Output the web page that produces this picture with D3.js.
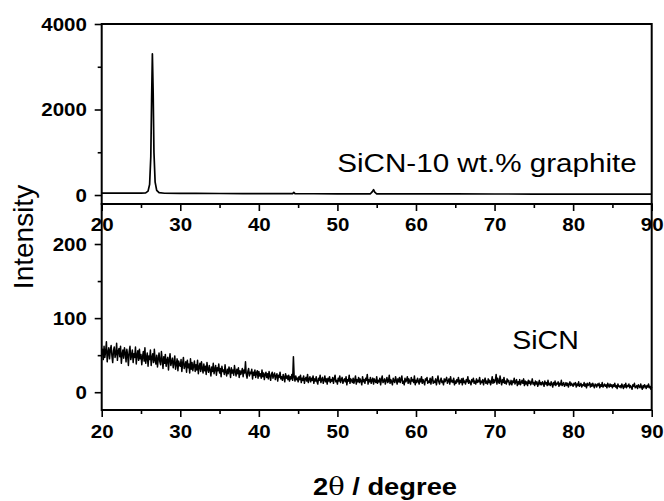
<!DOCTYPE html>
<html>
<head>
<meta charset="utf-8">
<script src="https://cdn.jsdelivr.net/npm/d3@7/dist/d3.min.js"></script>
<style>
html,body{margin:0;padding:0;background:#fff;}
svg{display:block;}
text{font-family:Arial,"Liberation Sans",sans-serif;fill:#000;}
</style>
</head>
<body>
<svg id="chart" width="664" height="501"></svg>
<script>
// ---- data ----
const xTicks = [20, 30, 40, 50, 60, 70, 80, 90];
const xMinorTicks = [25, 35, 45, 55, 65, 75, 85];
const topYTicks = [0, 2000, 4000];
const topYMinor = [1000, 3000];
const botYTicks = [0, 100, 200];
const botYMinor = [50, 150];

// SiCN-10 wt.% graphite pattern: [2theta, intensity]
const graphiteAngles = [20,21,22,23,24,25,25.6,25.9,26.1,26.25,26.35,26.45,26.55,26.65,26.8,27,27.3,28,30,32,35,38,40,42,44,44.3,44.45,44.6,47,50,53,54.2,54.45,54.6,54.75,55,58,60,65,70,75,80,85,90];
const graphiteIntensity = [46,44,47,43,45,44,50,90,250,900,2200,3300,2400,1000,300,110,55,42,40,38,36,34,33,32,31,34,60,32,30,29,28,29,80,125,70,29,27,26,25,24,23,22,21,21];

// SiCN pattern: sampled from 20 deg every 0.1 deg
const sicnStart = 20;
const sicnStep = 0.1;
const sicnIntensity = [
50,58,44,62,47,55,68,41,53,60, 45,57,63,49,40,56,61,47,52,66,
43,55,59,48,62,39,51,57,46,60, 53,41,58,50,36,55,62,44,49,57,
40,52,47,61,38,50,56,43,58,45, 51,37,48,55,42,60,39,46,53,35,
49,44,57,36,47,52,40,58,43,38, 50,34,45,53,41,37,55,44,32,48,
39,51,35,43,47,30,44,52,36,41, 46,33,40,49,31,38,45,29,42,37,
35,44,28,39,47,32,36,41,27,43, 33,38,26,45,31,40,29,36,42,28,
37,30,43,25,34,39,28,41,32,26, 38,29,35,24,40,31,27,36,30,22,
34,28,39,25,31,36,23,33,29,38, 26,32,21,35,28,30,24,37,27,22,
31,25,34,29,20,33,26,30,23,36, 28,22,31,25,33,20,29,24,27,32,
21,30,26,41,24,19,28,32,22,27, 25,31,18,27,23,30,20,26,29,19,
28,22,25,19,30,21,26,17,24,27, 20,25,18,28,22,16,24,27,19,23,
26,17,22,25,15,23,20,27,18,21, 16,24,20,14,25,19,22,17,23,15,
21,18,24,16,48,20,15,22,17,19, 14,21,17,23,13,19,16,22,12,18,
20,15,24,13,18,21,14,19,16,22, 12,18,15,21,14,11,19,16,23,13,
17,20,12,16,22,14,18,11,19,15, 21,13,17,15,20,12,18,23,14,16,
11,19,15,22,13,17,20,12,16,18, 14,21,10,17,15,23,12,18,16,13,
19,12,16,22,11,17,14,20,13,18, 15,10,21,14,17,12,19,16,24,11,
17,14,20,12,16,19,11,18,15,13, 21,12,16,14,19,10,17,22,13,15,
18,11,16,20,13,15,23,12,17,14, 10,19,15,13,21,16,11,18,14,20,
13,17,22,12,15,10,19,14,16,21, 12,18,14,11,20,15,17,13,22,10,
16,13,19,15,11,18,14,21,12,17, 14,10,18,16,20,12,15,13,19,11,
17,21,12,15,13,18,10,16,22,14, 11,16,19,13,15,10,18,14,17,20,
12,15,18,11,21,14,16,13,19,10, 15,12,17,14,20,11,16,13,18,10,
19,13,15,11,17,14,21,12,16,13, 10,17,14,19,12,15,11,18,13,16,
14,20,11,15,13,17,10,16,19,12, 15,11,18,13,16,10,14,21,12,17,
13,16,24,11,19,14,12,22,15,10, 17,13,20,12,15,11,18,14,16,10,
12,16,10,15,13,19,11,14,17,9, 14,11,17,10,13,16,12,18,9,15,
11,14,9,16,12,15,10,13,18,11, 13,9,15,11,14,8,12,16,10,13,
10,14,12,8,15,11,13,9,16,10, 12,9,14,11,7,13,10,15,9,12,
11,14,8,12,10,16,9,11,13,8, 10,13,9,12,7,11,14,9,12,10,
8,12,10,13,7,11,9,14,8,10, 12,7,10,9,13,8,11,6,12,9,
10,13,7,11,8,12,9,6,11,10, 7,11,9,12,6,10,8,13,7,9,
11,8,10,6,12,9,7,11,8,10, 6,10,8,12,7,9,5,11,8,7,
9,6,11,8,5,10,7,12,6,9, 8,11,6,9,7,4,10,8,12,6,
7,9,5,10,8,6,11,7,4,9, 6,10,8,5,9,7,11,6,8,4,
7];

const topLabel = "SiCN-10 wt.% graphite";
const botLabel = "SiCN";
const yTitle = "Intensity";

// ---- layout ----
const svg = d3.select("#chart");
const left = 101.7, right = 651.7;
const topP = {t: 24, b: 204};
const botP = {t: 204, b: 410};
const SX = 1.14; // horizontal stretch of the lettering

const x = d3.scaleLinear().domain([20, 90]).range([left, right]);
const yTop = d3.scaleLinear().domain([-210, 4000]).range([topP.b, topP.t]);
const yBot = d3.scaleLinear().domain([-24, 254]).range([botP.b, botP.t]);

const tickFont = "bold 18px Arial, 'Liberation Sans', sans-serif";

function styleAxis(g) {
  g.select(".domain").remove();
  g.selectAll(".tick line").attr("stroke", "#000").attr("stroke-width", 1.6);
  g.selectAll(".tick text").style("font", tickFont).attr("fill", "#000")
    .attr("transform", `scale(${SX},1)`);
}

function panel(yScale, p, yTicks, yMinor, data, label, labelPos, labelSize, xPad, lw) {
  // data line
  svg.append("path")
    .datum(data)
    .attr("fill", "none")
    .attr("stroke", "#000")
    .attr("stroke-width", lw)
    .attr("stroke-linejoin", "round")
    .attr("d", d3.line().x(d => x(d[0])).y(d => yScale(d[1])));

  // x axis
  const gx = svg.append("g").attr("transform", `translate(0,${p.b})`)
    .call(d3.axisBottom(x).tickValues(xTicks).tickSize(7).tickPadding(xPad).tickFormat(d3.format("d")));
  styleAxis(gx);
  const gxm = svg.append("g").attr("transform", `translate(0,${p.b})`)
    .call(d3.axisBottom(x).tickValues(xMinorTicks).tickSize(4).tickFormat(""));
  styleAxis(gxm);

  // y axis
  const gy = svg.append("g").attr("transform", `translate(${left},0)`)
    .call(d3.axisLeft(yScale).tickValues(yTicks).tickSize(7).tickPadding(6).tickFormat(d3.format("d")));
  styleAxis(gy);
  gy.selectAll(".tick text").attr("dy", "0.36em");
  const gym = svg.append("g").attr("transform", `translate(${left},0)`)
    .call(d3.axisLeft(yScale).tickValues(yMinor).tickSize(4).tickFormat(""));
  styleAxis(gym);

  // frame
  svg.append("rect")
    .attr("x", left).attr("y", p.t)
    .attr("width", right - left).attr("height", p.b - p.t)
    .attr("fill", "none").attr("stroke", "#000").attr("stroke-width", 2);

  svg.append("text")
    .attr("transform", `translate(${labelPos[0]},${labelPos[1]}) scale(${SX},1)`)
    .attr("text-anchor", "middle")
    .style("font", `${labelSize}px Arial, 'Liberation Sans', sans-serif`)
    .text(label);
}

const topData = graphiteAngles.map((a, i) => [a, graphiteIntensity[i]]);
const botData = sicnIntensity.map((v, i) => [sicnStart + i * sicnStep, v]);

panel(yTop, topP, topYTicks, topYMinor, topData, topLabel, [487, 172], 26, 7, 1.7);
panel(yBot, botP, botYTicks, botYMinor, botData, botLabel, [545.5, 349], 25, 8, 1.5);

// axis titles
svg.append("text")
  .attr("transform", "translate(33,237) rotate(-90)")
  .attr("text-anchor", "middle")
  .style("font", "28px Arial, 'Liberation Sans', sans-serif")
  .text(yTitle);

const xt = svg.append("text")
  .attr("transform", `translate(385,495) scale(${SX},1)`)
  .attr("text-anchor", "middle")
  .style("font", "bold 24px Arial, 'Liberation Sans', sans-serif");
xt.append("tspan").text("2");
xt.append("tspan").style("font-family", "'DejaVu Serif', serif").style("font-weight", "normal").text("θ");
xt.append("tspan").text(" / degree");
</script>
</body>
</html>
